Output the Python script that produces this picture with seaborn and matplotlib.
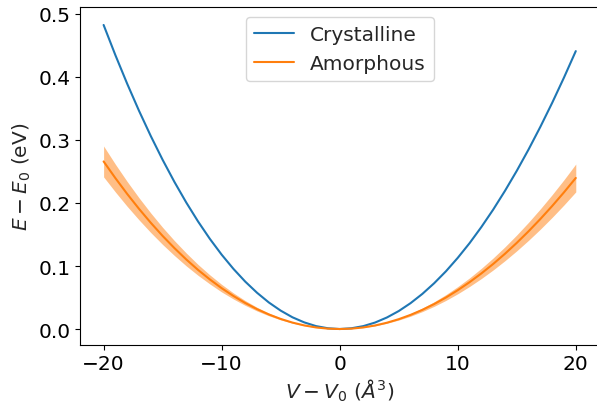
import matplotlib
matplotlib.use("Agg")
import matplotlib.pyplot as plt
import seaborn as sns
import pandas as pd

# Volume change from V0 (A^3)
dv = list(range(-20, 21))

# Energy relative to minimum (eV)
e_crystal = [0.4825, 0.4345, 0.3891, 0.3463, 0.3061, 0.2685, 0.2334, 0.2008, 0.1707, 0.1431,
             0.1180, 0.0954, 0.0752, 0.0575, 0.0421, 0.0292, 0.0186, 0.0105, 0.0046, 0.0012,
             0.0,
             0.0012, 0.0046, 0.0103, 0.0183, 0.0285, 0.0410, 0.0557, 0.0726, 0.0916, 0.1129,
             0.1362, 0.1618, 0.1894, 0.2192, 0.2510, 0.2849, 0.3209, 0.3589, 0.3990, 0.4410]
e_amorph = [0.2659, 0.2394, 0.2143, 0.1907, 0.1685, 0.1477, 0.1284, 0.1104, 0.0938, 0.0787,
            0.0648, 0.0524, 0.0413, 0.0315, 0.0231, 0.0160, 0.0102, 0.0057, 0.0025, 0.0006,
            0.0,
            0.0006, 0.0025, 0.0056, 0.0100, 0.0156, 0.0224, 0.0304, 0.0396, 0.0500, 0.0616,
            0.0743, 0.0882, 0.1032, 0.1194, 0.1367, 0.1551, 0.1746, 0.1952, 0.2169, 0.2397]
e_amorph_lo = [0.2414, 0.2174, 0.1946, 0.1732, 0.1530, 0.1341, 0.1166, 0.1002, 0.0852, 0.0715,
               0.0588, 0.0476, 0.0375, 0.0286, 0.0210, 0.0145, 0.0093, 0.0052, 0.0023, 0.0005,
               0.0,
               0.0005, 0.0023, 0.0051, 0.0091, 0.0142, 0.0203, 0.0276, 0.0360, 0.0454, 0.0559,
               0.0675, 0.0801, 0.0937, 0.1084, 0.1241, 0.1408, 0.1585, 0.1772, 0.1969, 0.2176]
e_amorph_hi = [0.2904, 0.2614, 0.2340, 0.2082, 0.1840, 0.1613, 0.1402, 0.1206, 0.1024, 0.0859,
               0.0708, 0.0572, 0.0451, 0.0344, 0.0252, 0.0175, 0.0111, 0.0062, 0.0027, 0.0007,
               0.0,
               0.0007, 0.0027, 0.0061, 0.0109, 0.0170, 0.0245, 0.0332, 0.0432, 0.0546, 0.0673,
               0.0811, 0.0963, 0.1127, 0.1304, 0.1493, 0.1694, 0.1907, 0.2132, 0.2369, 0.2618]

sns.set_theme(style="ticks", rc={
    "axes.edgecolor": "black", "axes.linewidth": 0.8,
    "xtick.color": "black", "ytick.color": "black",
    "xtick.major.size": 3.5, "ytick.major.size": 3.5,
    "xtick.major.width": 0.8, "ytick.major.width": 0.8,
    "font.size": 14.5, "axes.labelsize": 14.5, "xtick.labelsize": 14.5,
    "ytick.labelsize": 14.5, "legend.fontsize": 14.5})
plt.rcParams["font.family"] = ["DejaVu Sans"]

df = pd.DataFrame({"dv": dv, "crys": e_crystal, "amor": e_amorph})

fig = plt.figure(figsize=(5.97, 4.06), dpi=100)
ax = fig.add_axes([0.134, 0.1485, 0.870, 0.8318])

sns.lineplot(data=df, x="dv", y="crys", color="#1f77b4", lw=1.5, label="Crystalline", ax=ax)
sns.lineplot(data=df, x="dv", y="amor", color="#ff7f0e", lw=1.5, label="Amorphous", ax=ax)
ax.fill_between(dv, e_amorph_lo, e_amorph_hi, color="#ff7f0e", alpha=0.5, lw=0)

ax.set_xlim(-22, 22)
ax.set_ylim(-0.0249, 0.511)
ax.set_xticks([-20, -10, 0, 10, 20])
ax.set_yticks([0.0, 0.1, 0.2, 0.3, 0.4, 0.5])
ax.set_xlabel(r"$V - V_0$ ($\AA^3$)", labelpad=2.5)
ax.set_ylabel(r"$E - E_0$ (eV)")
ax.legend(loc="upper center")

fig.savefig("out.png", dpi=100)
